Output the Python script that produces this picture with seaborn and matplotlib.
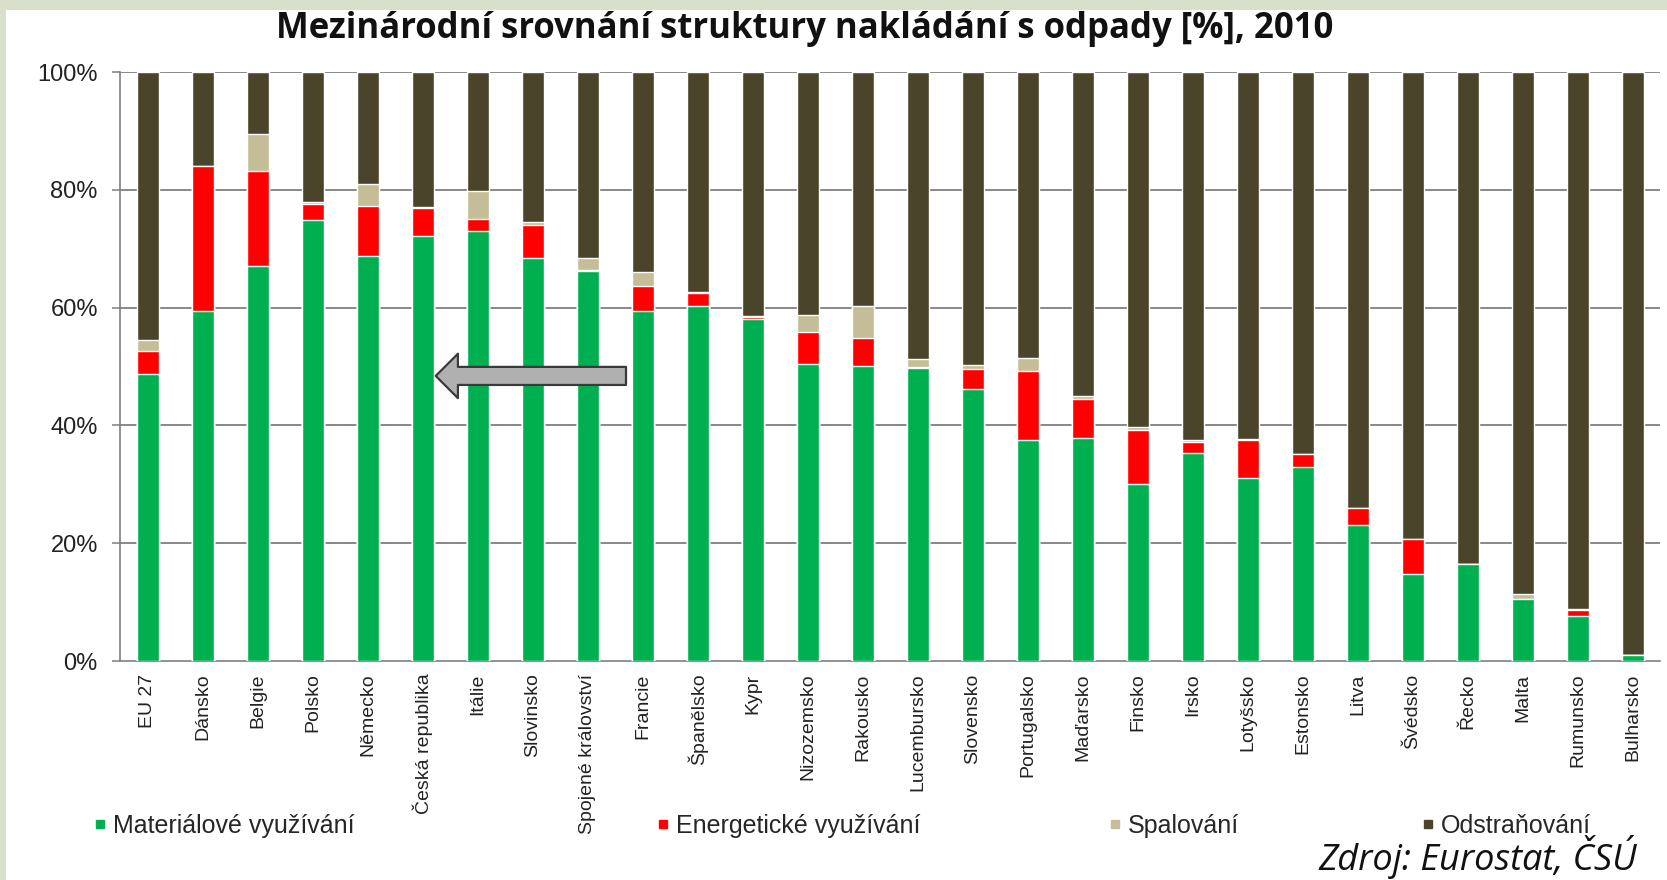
import numpy as np
import matplotlib
matplotlib.use('Agg')
import matplotlib.pyplot as plt
import seaborn as sns
from matplotlib.lines import Line2D
from matplotlib.patches import Rectangle

sns.set_style('white')

# data (% of waste)
countries = ['EU 27', 'Dánsko', 'Belgie', 'Polsko', 'Německo', 'Česká republika',
             'Itálie', 'Slovinsko', 'Spojené království', 'Francie', 'Španělsko',
             'Kypr', 'Nizozemsko', 'Rakousko', 'Lucembursko', 'Slovensko',
             'Portugalsko', 'Maďarsko', 'Finsko', 'Irsko', 'Lotyšsko', 'Estonsko',
             'Litva', 'Švédsko', 'Řecko', 'Malta', 'Rumunsko', 'Bulharsko']
material = [48.8, 59.4, 67.0, 74.8, 68.7, 72.2, 73.0, 68.5, 66.2, 59.4, 60.2, 58.0,
            50.5, 50.1, 49.7, 46.1, 37.6, 37.9, 30.1, 35.3, 31.0, 33.0, 23.1, 14.8,
            16.5, 10.6, 7.6, 1.1]
energeticke = [3.9, 24.7, 16.2, 2.8, 8.6, 4.7, 2.1, 5.5, 0.1, 4.3, 2.2, 0.4,
               5.3, 4.7, 0.3, 3.5, 11.6, 6.6, 9.2, 1.9, 6.6, 2.1, 2.9, 5.9,
               0.0, 0.0, 1.0, 0.0]
spalovani = [1.8, 0.0, 6.3, 0.3, 3.7, 0.2, 4.7, 0.5, 2.1, 2.3, 0.2, 0.2,
             2.9, 5.4, 1.2, 0.6, 2.2, 0.5, 0.5, 0.4, 0.1, 0.0, 0.0, 0.0,
             0.0, 0.8, 0.2, 0.0]
odstranovani = [45.5, 15.9, 10.5, 22.1, 19.0, 22.9, 20.2, 25.5, 31.6, 34.0, 37.4, 41.4,
                41.3, 39.8, 48.8, 49.8, 48.6, 55.0, 60.2, 62.4, 62.3, 64.9, 74.0, 79.3,
                83.5, 88.6, 91.2, 98.9]
series_names = ['Materiálové využívání', 'Energetické využívání', 'Spalování', 'Odstraňování']
colors = ['#00B050', '#FF0000', '#C4BD97', '#4A442A']
y_ticks = [0, 20, 40, 60, 80, 100]

stack = np.array([material, energeticke, spalovani, odstranovani])
tops = np.cumsum(stack, axis=0)

W, H = 1667, 880
fig = plt.figure(figsize=(W / 100, H / 100), dpi=100)
fig.patch.set_facecolor('#D8DFCA')
fig.patches.append(Rectangle((6 / W, 0), 1, 1 - 10 / H, transform=fig.transFigure,
                             facecolor='white', edgecolor='none', zorder=-5))

ax = fig.add_axes([120 / W, 1 - 661 / H, 1540 / W, 589 / H])
ax.set_facecolor('white')

# stacked bars: draw cumulative totals from top layer down
for i in range(3, -1, -1):
    sns.barplot(x=countries, y=tops[i], order=countries, color=colors[i], saturation=1,
                width=0.4, errorbar=None, ax=ax, zorder=3)

ax.set_ylim(0, 100)
ax.set_xlim(-0.5, len(countries) - 0.5)
ax.set_yticks(y_ticks)
ax.set_yticklabels([f'{v}%' for v in y_ticks], family='Liberation Sans', fontsize=17,
                   color='#222222')
ax.set_xticks(range(len(countries)))
ax.set_xticklabels(countries, rotation=90, family='Liberation Sans', fontsize=14,
                   color='#222222', va='top')
ax.set_xticks(np.arange(-0.5, len(countries), 1), minor=True)
ax.tick_params(axis='x', which='major', length=0, pad=9)
ax.tick_params(axis='x', which='minor', length=6, color='#7F7F7F', width=1.1)
ax.tick_params(axis='y', length=6, color='#7F7F7F', width=1.1, pad=10, left=True)
# horizontal gridlines
for v in y_ticks[1:]:
    ax.axhline(v, color='#7F7F7F', linewidth=1.3, zorder=1)
for s in ['top', 'right']:
    ax.spines[s].set_visible(False)
for s in ['left', 'bottom']:
    ax.spines[s].set_color('#7F7F7F')
    ax.spines[s].set_linewidth(1.2)
ax.set_xlabel('')
ax.set_ylabel('')

# arrow pointing at the Czech bar
ax.annotate('', xy=(5.24, 48.4), xytext=(8.7, 48.4),
            arrowprops=dict(arrowstyle='simple,head_length=16,head_width=32,tail_width=13',
                            mutation_scale=1, fc='#B0B0B0', ec='#3A3A3A', lw=1.6,
                            shrinkA=0, shrinkB=0), zorder=6)

fig.text(0.483, 1 - 29 / H, 'Mezinárodní srovnání struktury nakládání s odpady [%], 2010',
         ha='center', va='center', fontsize=25, fontweight='bold',
         family=['Open Sans', 'DejaVu Sans'], color='#111111')

# legend, one entry at a time as in the original
leg_x = [92, 655, 1107, 1420]
for name, c, x in zip(series_names, colors, leg_x):
    h = Line2D([], [], marker='s', linestyle='none', markersize=6,
               markerfacecolor=c, markeredgecolor=c)
    fig.legend([h], [name], loc='center left', bbox_to_anchor=(x / W, 1 - 826 / H),
               frameon=False, borderpad=0, borderaxespad=0, handlelength=0.6,
               handletextpad=0.25, prop={'family': 'Liberation Sans', 'size': 18})

fig.text(1318 / W, 1 - 857 / H, 'Zdroj: Eurostat, ČSÚ', ha='left', va='center',
         fontsize=26, style='italic', family=['Open Sans', 'DejaVu Sans'], color='#111111')

fig.savefig('out.png', dpi=100, facecolor=fig.get_facecolor())

# sanity check: gridline must be visible between the first two bars
fig.canvas.draw()
img = np.asarray(fig.canvas.buffer_rgba())
y20 = int(round(661 - 0.2 * 589))
patch = img[y20 - 4:y20 + 5, 174, :3]
if patch.min() > 240:
    raise SystemExit(f'gridline missing: {patch.tolist()}')
